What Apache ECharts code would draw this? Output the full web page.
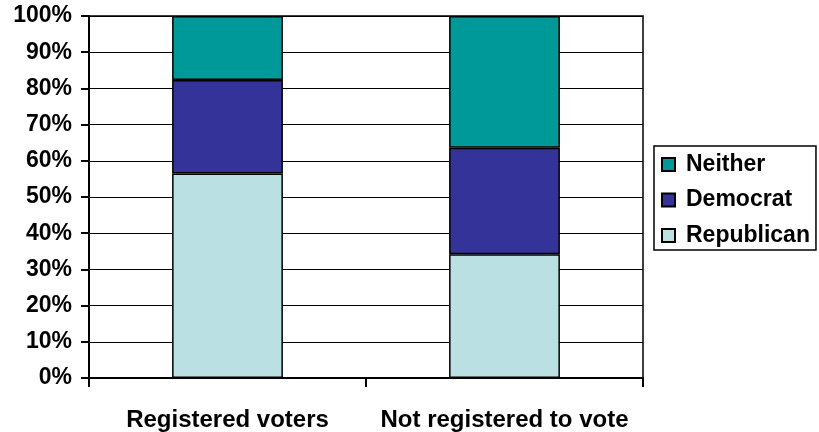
<!DOCTYPE html>
<html><head><meta charset="utf-8">
<script src="https://cdn.jsdelivr.net/npm/echarts@6/dist/echarts.min.js"></script>
<style>html,body{margin:0;padding:0;background:#fff}#c{width:819px;height:432px}</style>
</head><body><div id="c"></div>
<script>
const categories = ['Registered voters', 'Not registered to vote'];
const republican = [56.5, 34.2];
const democrat = [25.8, 29.4];
const neither = [17.7, 36.4];
const yTicks = [0, 10, 20, 30, 40, 50, 60, 70, 80, 90, 100];

const font = '"Liberation Sans", Arial, sans-serif';
const chart = echarts.init(document.getElementById('c'), null, {renderer: 'canvas'});
const barStyle = c => ({color: c, borderColor: '#000', borderWidth: 1.5});
chart.setOption({
  animation: false,
  grid: {left: 89, right: 176, top: 16, bottom: 54, show: true, borderColor: '#000', borderWidth: 1.5},
  legend: {
    orient: 'vertical', left: 654, top: 146,
    data: ['Neither', 'Democrat', 'Republican'],
    backgroundColor: '#fff', borderColor: '#000', borderWidth: 1.5,
    padding: [7, 6, 3, 7],
    itemWidth: 13, itemHeight: 13, itemGap: 12.5,
    icon: 'rect',
    textStyle: {fontFamily: font, fontWeight: 'bold', fontSize: 23, color: '#000', padding: [0, 0, 0, 6]}
  },
  xAxis: {
    type: 'category', data: categories,
    axisLine: {lineStyle: {color: '#000', width: 2}},
    axisTick: {show: true, length: 9, lineStyle: {color: '#000', width: 2}},
    axisLabel: {fontFamily: font, fontWeight: 'bold', fontSize: 24, color: '#000', margin: 30, interval: 0}
  },
  yAxis: {
    type: 'value', min: 0, max: 100, interval: 10,
    axisLine: {show: true, lineStyle: {color: '#000', width: 2}},
    axisTick: {show: true, length: 8, lineStyle: {color: '#000', width: 2}},
    splitLine: {lineStyle: {color: '#000', width: 1}},
    axisLabel: {fontFamily: font, fontWeight: 'bold', fontSize: 23, color: '#000', margin: 17,
      formatter: v => yTicks.includes(v) ? v + '%' : ''}
  },
  series: [
    {name: 'Republican', type: 'bar', stack: 'a', data: republican, barWidth: '40%', itemStyle: barStyle('#BBE0E3')},
    {name: 'Democrat', type: 'bar', stack: 'a', data: democrat, itemStyle: barStyle('#333399')},
    {name: 'Neither', type: 'bar', stack: 'a', data: neither, itemStyle: barStyle('#009999')}
  ]
});
</script></body></html>
